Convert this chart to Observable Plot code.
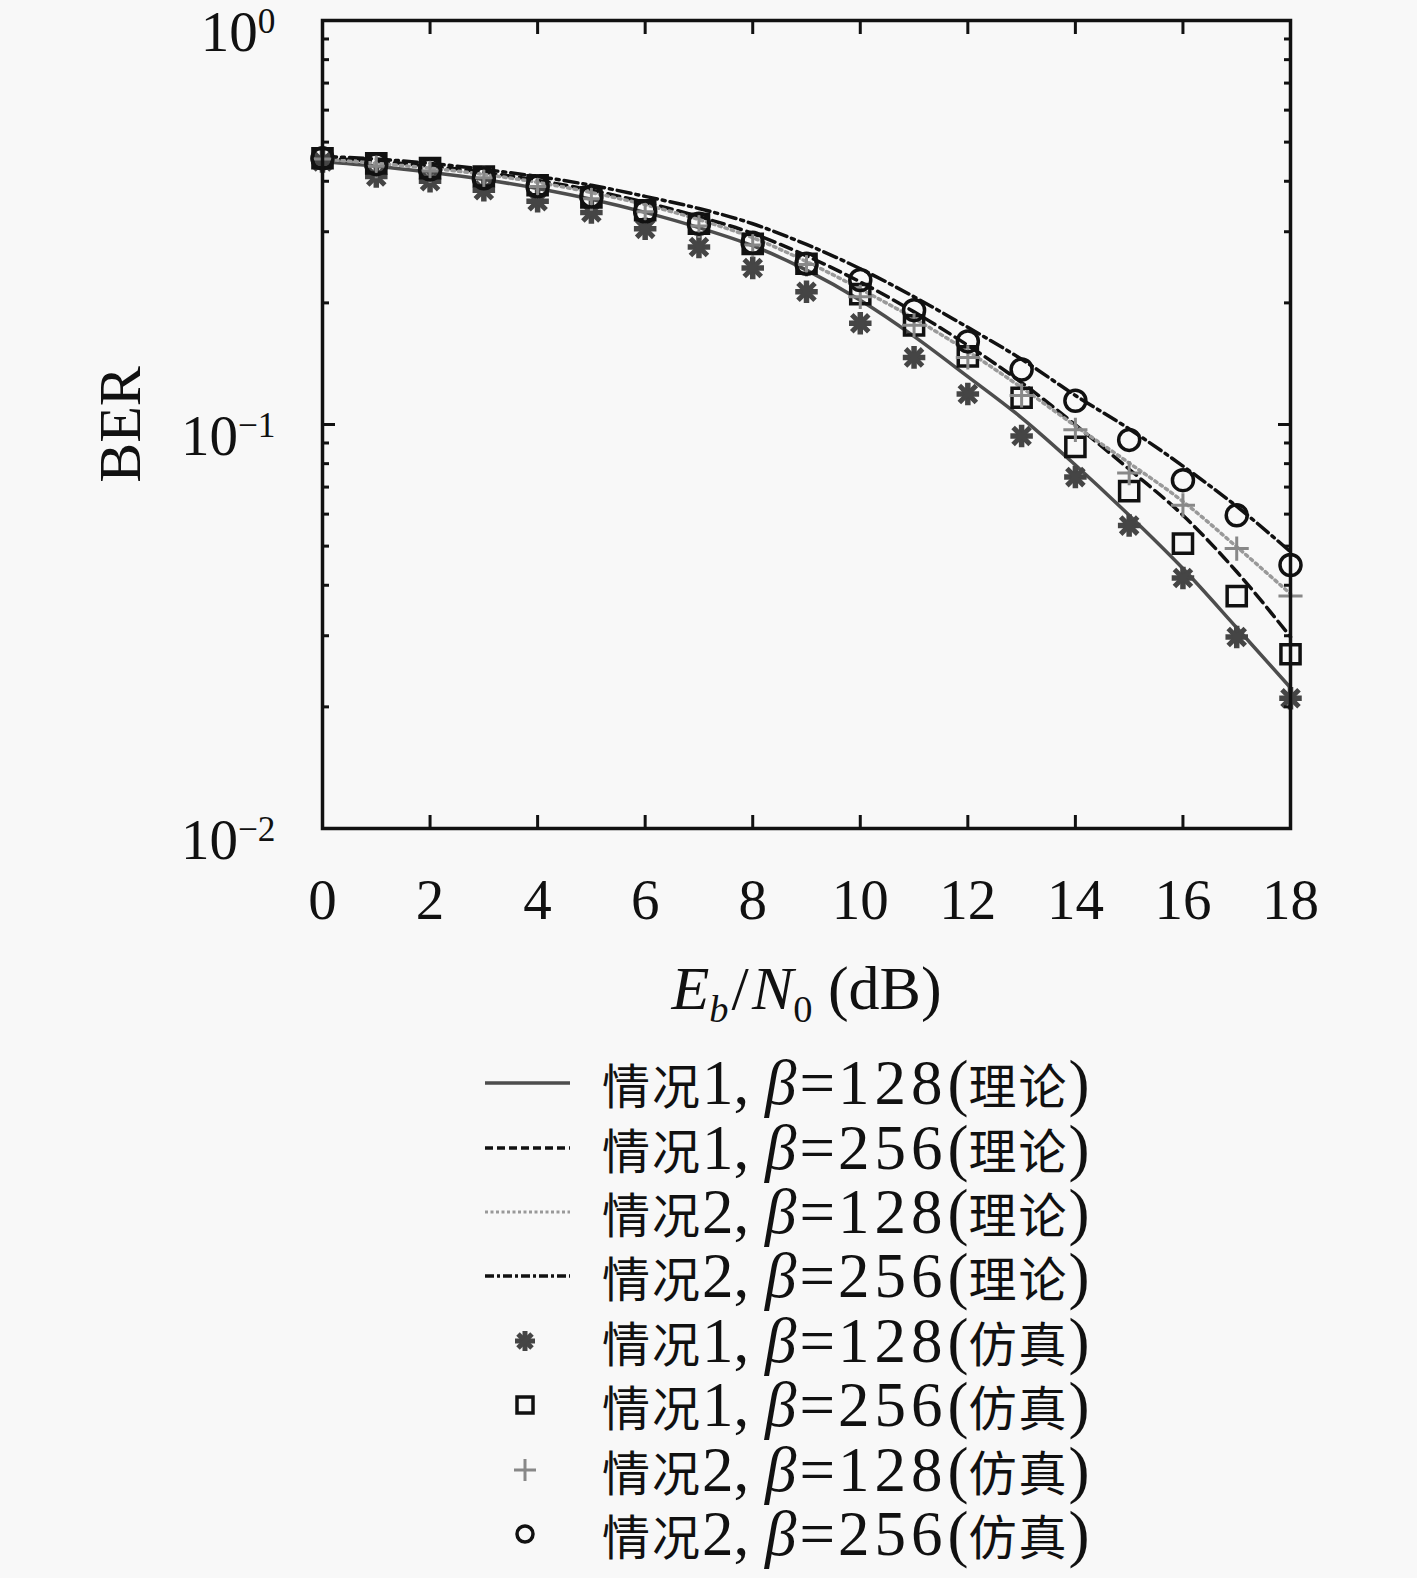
<!DOCTYPE html>
<html><head><meta charset="utf-8">
<script src="https://cdn.jsdelivr.net/npm/d3@7"></script>
<script src="https://cdn.jsdelivr.net/npm/@observablehq/plot@0.6"></script>
<style>
body{margin:0;background:#f8f8f8;}
#wrap{position:relative;width:1417px;height:1578px;overflow:hidden;}
#chart{position:absolute;left:0;top:0;}
#legend{position:absolute;left:485px;top:1051px;font-family:"Liberation Serif","Noto Sans CJK SC",serif;font-size:63px;color:#111;text-autospace:no-autospace;}
.row{height:64.4px;display:flex;align-items:center;}
.row > svg{width:85px;height:64px;flex:none;overflow:visible;}
.row > span{margin-left:32px;white-space:nowrap;line-height:60px;height:60px;}
.eq{margin:0 3px;}
.num{letter-spacing:5px;}
.cjk{font-family:"Noto Sans CJK SC",sans-serif;font-size:48px;letter-spacing:2px;display:inline-block;line-height:54px;height:54px;}
</style></head>
<body><div id="wrap"><div id="chart"></div><div id="legend"></div></div>
<script>
// ---- data ----
const ebn0 = [0,1,2,3,4,5,6,7,8,9,10,11,12,13,14,15,16,17,18];
const case1_128_theory = [0.448,0.436,0.421,0.404,0.384,0.361,0.335,0.307,0.277,0.241,0.203,0.1653,0.1314,0.1039,0.0794,0.0596,0.0440,0.0314,0.0223];
const case1_256_theory = [0.456,0.448,0.436,0.421,0.402,0.380,0.3545,0.327,0.297,0.2615,0.2253,0.190,0.157,0.127,0.0998,0.0775,0.0596,0.0432,0.0298];
const case2_128_theory = [0.454,0.443,0.431,0.416,0.3975,0.375,0.350,0.3215,0.290,0.253,0.2164,0.183,0.1517,0.1234,0.0992,0.0803,0.0645,0.0498,0.0381];
const case2_256_theory = [0.461,0.454,0.443,0.428,0.411,0.391,0.367,0.3425,0.314,0.279,0.243,0.207,0.174,0.145,0.118,0.0975,0.0789,0.0627,0.0484];
const case1_128_sim = [0.448,0.411,0.400,0.380,0.357,0.335,0.305,0.275,0.244,0.213,0.178,0.1466,0.119,0.0937,0.0741,0.0562,0.0417,0.0298,0.0210];
const case1_256_sim = [0.456,0.443,0.431,0.411,0.391,0.365,0.339,0.314,0.280,0.250,0.2103,0.176,0.1474,0.1165,0.088,0.0684,0.0507,0.0376,0.027];
const case2_128_sim = [0.454,0.436,0.424,0.408,0.388,0.362,0.336,0.310,0.278,0.249,0.207,0.176,0.1466,0.118,0.097,0.0758,0.0631,0.0493,0.0376];
const case2_256_sim = [0.456,0.441,0.428,0.4067,0.3885,0.3668,0.3366,0.314,0.2818,0.250,0.2279,0.1919,0.1606,0.1368,0.1145,0.0916,0.0728,0.0596,0.0449];

const xTicks = [0,2,4,6,8,10,12,14,16,18];
const yMajor = [1,0.1,0.01];
const yMajorLabels = ["0","\u22121","\u22122"];
const yMinor = [0.02,0.03,0.04,0.05,0.06,0.07,0.08,0.09,0.2,0.3,0.4,0.5,0.6,0.7,0.8,0.9];
const legendLabels = [
  ["1","128","理论"],["1","256","理论"],["2","128","理论"],["2","256","理论"],
  ["1","128","仿真"],["1","256","仿真"],["2","128","仿真"],["2","256","仿真"]
];

const rows = (ys) => ebn0.map((x,i) => ({x, y: ys[i]}));

const FS = 57;
const XLABEL = "Eb/N0 (dB)";
const chart = Plot.plot({
  width: 1417, height: 1030,
  marginLeft: 322, marginRight: 127, marginTop: 20, marginBottom: 202,
  style: {background: "#f8f8f8", fontFamily: "'Liberation Serif', serif", color: "#111", overflow: "visible"},
  x: {domain: [0,18], label: null},
  y: {type: "log", domain: [0.01,1], label: null},
  marks: [
    Plot.line(rows(case1_128_theory), {x:"x", y:"y", stroke:"#4d4d4d", strokeWidth:3.5, curve:"monotone-x"}),
    Plot.line(rows(case1_256_theory), {x:"x", y:"y", stroke:"#111", strokeWidth:3.5, strokeDasharray:"12,6", curve:"monotone-x"}),
    Plot.line(rows(case2_128_theory), {x:"x", y:"y", stroke:"#999", strokeWidth:3.5, strokeDasharray:"2.5,4", curve:"monotone-x"}),
    Plot.line(rows(case2_256_theory), {x:"x", y:"y", stroke:"#111", strokeWidth:3.5, strokeDasharray:"14,5,3,5", curve:"monotone-x"}),
    Plot.dot(rows(case1_128_sim), {x:"x", y:"y", symbol:"plus", r:7.3, stroke:"#454545", strokeWidth:5.5}),
    Plot.dot(rows(case1_128_sim), {x:"x", y:"y", symbol:"times", r:7.8, stroke:"#454545", strokeWidth:5}),
    Plot.dot(rows(case1_256_sim), {x:"x", y:"y", symbol:"square", r:10.8, stroke:"#111", strokeWidth:3.5, fill:"none"}),
    Plot.dot(rows(case2_128_sim), {x:"x", y:"y", symbol:"plus", r:7.8, stroke:"#888", strokeWidth:3}),
    Plot.dot(rows(case2_256_sim), {x:"x", y:"y", symbol:"circle", r:10.5, stroke:"#111", strokeWidth:3.5, fill:"none"}),
    Plot.frame({stroke:"#111", strokeWidth:3.5}),
    // inward ticks
    Plot.axisX(xTicks, {anchor:"bottom", tickSize:13, dy:-13, fill:"none", strokeWidth:3, stroke:"#111", label:null}),
    Plot.axisX(xTicks, {anchor:"top", tickSize:13, dy:13, fill:"none", strokeWidth:3, stroke:"#111", label:null}),
    Plot.axisY(yMajor, {anchor:"left", tickSize:13, dx:13, fill:"none", strokeWidth:3, stroke:"#111", label:null}),
    Plot.axisY(yMajor, {anchor:"right", tickSize:13, dx:-13, fill:"none", strokeWidth:3, stroke:"#111", label:null}),
    Plot.axisY(yMinor, {anchor:"left", tickSize:7, dx:7, fill:"none", strokeWidth:3, stroke:"#111", label:null}),
    Plot.axisY(yMinor, {anchor:"right", tickSize:7, dx:-7, fill:"none", strokeWidth:3, stroke:"#111", label:null}),
    // labels
    Plot.axisX(xTicks, {anchor:"bottom", tickSize:0, tickPadding:50, fontSize:FS, fill:"#111", label:null}),
    Plot.axisY(yMajor, {anchor:"left", tickSize:0, tickPadding:47, dy:12, fontSize:FS, fill:"#111", label:null,
      tickFormat: (d) => "10^" + yMajorLabels[yMajor.indexOf(d)]}),
    Plot.text([0], {frameAnchor:"left", dx:-202, rotate:-90, textAnchor:"middle", lineAnchor:"middle", text: () => "BER", fontSize:60, fill:"#111"}),
    Plot.text([0], {frameAnchor:"bottom", dy:161, textAnchor:"middle", lineAnchor:"middle", text: () => XLABEL, fontSize:62, fill:"#111"})
  ]
});
document.getElementById("chart").appendChild(chart);

const NS = "http://www.w3.org/2000/svg";
function tspan(parent, txt, attrs) {
  const t = document.createElementNS(NS, "tspan");
  for (const k in attrs) t.setAttribute(k, attrs[k]);
  t.textContent = txt;
  parent.appendChild(t);
  return t;
}
// y tick labels as 10^k
chart.querySelectorAll('g[aria-label="y-axis tick label"] text').forEach(t => {
  const s = t.textContent.split("^");
  t.textContent = "";
  tspan(t, s[0], {});
  tspan(t, s[1], {dy: "-0.5em", "font-size": "0.62em"});
});
// x label with italics / subscripts
chart.querySelectorAll('text').forEach(t => {
  if (t.textContent !== XLABEL) return;
  t.textContent = "";
  tspan(t, "E", {"font-style": "italic"});
  tspan(t, "b", {"font-style": "italic", "font-size": "0.62em", dy: "0.32em"});
  tspan(t, "/", {dy: "-0.2em", dx: "0.05em"});
  tspan(t, "N", {"font-style": "italic", dx: "0.05em"});
  tspan(t, "0", {"font-size": "0.62em", dy: "0.32em"});
  tspan(t, "\u00a0(dB)", {dy: "-0.2em"});
});

// legend
const legend = document.getElementById("legend");
const samples = [
  '<line x1="0" x2="85" y1="32" y2="32" stroke="#4d4d4d" stroke-width="3.5"/>',
  '<line x1="0" x2="85" y1="32" y2="32" stroke="#111" stroke-width="3.5" stroke-dasharray="8,4"/>',
  '<line x1="0" x2="85" y1="32" y2="32" stroke="#999" stroke-width="3" stroke-dasharray="3,2.5"/>',
  '<line x1="0" x2="85" y1="32" y2="32" stroke="#111" stroke-width="3.5" stroke-dasharray="9,3,3,3"/>',
  '<g stroke="#454545" stroke-width="5"><line x1="40" x2="40" y1="22" y2="42"/><line x1="30" x2="50" y1="32" y2="32"/><line x1="33" x2="47" y1="25" y2="39"/><line x1="33" x2="47" y1="39" y2="25"/></g>',
  '<rect x="32" y="24" width="16" height="16" fill="none" stroke="#111" stroke-width="3.5"/>',
  '<g stroke="#888" stroke-width="3"><line x1="40" x2="40" y1="21" y2="43"/><line x1="29" x2="51" y1="32" y2="32"/></g>',
  '<circle cx="40" cy="32" r="8" fill="none" stroke="#111" stroke-width="3.5"/>'
];
legendLabels.forEach((l, i) => {
  const row = document.createElement("div");
  row.className = "row";
  row.innerHTML = `<svg viewBox="0 0 85 64">${samples[i]}</svg><span><span class="cjk">情况</span>${l[0]}, <i>β</i><span class="eq">=</span><span class="num">${l[1]}</span>(<span class="cjk">${l[2]}</span>)</span>`;
  legend.appendChild(row);
});
</script>
</body></html>
